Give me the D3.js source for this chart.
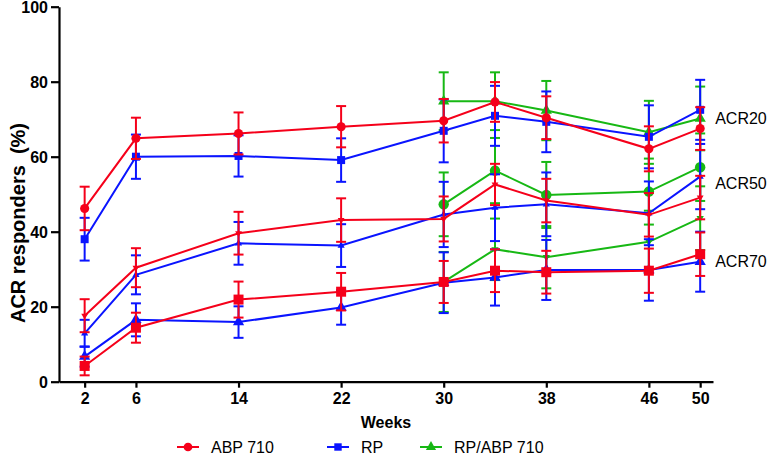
<!DOCTYPE html>
<html><head><meta charset="utf-8">
<script src="https://cdn.jsdelivr.net/npm/d3@7"></script>
<style>html,body{margin:0;padding:0;background:#fff;}svg{display:block;font-family:"Liberation Sans",Arial,sans-serif;}</style>
</head><body>
<svg id="c" width="767" height="457"></svg>
<script>
const weeks = [2, 6, 14, 22, 30, 34, 38, 46, 50];
const weeksCombo = [30, 34, 38, 46, 50];
const xTicks = [2, 6, 14, 22, 30, 38, 46, 50];
const yTicks = [0, 20, 40, 60, 80, 100];

const abp20 = [46.2, 64.9, 66.2, 68.0, 69.6, 74.6, 70.4, 62.1, 67.5];
const abp20Err = [5.8, 5.5, 5.6, 5.5, 5.8, 5.3, 5.7, 6.0, 5.7];
const abp50 = [17.6, 30.4, 39.6, 43.1, 43.4, 52.6, 48.3, 44.5, 49.1];
const abp50Err = [4.4, 5.2, 5.7, 5.8, 6.0, 5.5, 5.8, 5.8, 5.8];
const abp70 = [4.2, 14.4, 21.9, 24.0, 26.6, 29.6, 29.2, 29.6, 34.0];
const abp70Err = [2.5, 4.0, 4.8, 5.0, 5.6, 5.7, 5.7, 5.9, 5.8];

const rp20 = [38.0, 60.0, 60.2, 59.1, 66.9, 70.9, 69.3, 65.3, 72.5];
const rp20Err = [5.7, 5.9, 5.5, 5.8, 8.4, 8.0, 8.1, 8.4, 8.0];
const rp50 = [12.9, 28.5, 36.9, 36.3, 44.6, 46.4, 47.3, 44.9, 54.7];
const rp50Err = [3.6, 5.2, 5.7, 5.7, 8.7, 8.9, 8.5, 8.5, 8.7];
const rp70 = [6.7, 16.5, 15.9, 19.8, 26.4, 27.8, 29.8, 29.8, 32.0];
const rp70Err = [2.7, 4.4, 4.2, 4.6, 8.1, 7.5, 8.0, 8.2, 8.0];

const combo20 = [74.8, 74.8, 72.3, 66.5, 70.2];
const combo20Err = [7.7, 7.7, 7.9, 8.4, 8.5];
const combo50 = [47.3, 56.3, 49.8, 50.7, 57.2];
const combo50Err = [8.5, 8.7, 8.8, 8.8, 9.0];
const combo70 = [26.6, 35.3, 33.2, 37.3, 43.6];
const combo70Err = [8.0, 8.2, 8.3, 8.3, 8.5];

const groups = ["ABP 710", "RP", "RP/ABP 710"];
const colors = ["#f5001a", "#0a14ff", "#17b814"];
const levelLabels = ["ACR20", "ACR50", "ACR70"];
const levelLabelValues = [70.2, 52.9, 32.0];

const svg = d3.select("#c");
const x = d3.scaleLinear().domain([0, 51]).range([59, 713]);
const y = d3.scaleLinear().domain([0, 100]).range([381.7, 6.7]);

const triDown = { draw(ctx, size) { const s = Math.sqrt(size / (3 * Math.sqrt(3) / 4)); const h = s * Math.sqrt(3) / 2; ctx.moveTo(-s/2, -h/3); ctx.lineTo(s/2, -h/3); ctx.lineTo(0, 2*h/3); ctx.closePath(); } };

// series definitions: [weeks, means, errs, colorIdx, symbol, size]
const series = [
  [weeksCombo, combo70, combo70Err, 2, triDown, 70],
  [weeksCombo, combo50, combo50Err, 2, d3.symbolCircle, 85],
  [weeksCombo, combo20, combo20Err, 2, d3.symbolTriangle, 55],
  [weeks, rp70, rp70Err, 1, d3.symbolTriangle, 55],
  [weeks, rp50, rp50Err, 1, d3.symbolTriangle, 22],
  [weeks, rp20, rp20Err, 1, d3.symbolSquare, 64],
  [weeks, abp70, abp70Err, 0, d3.symbolSquare, 100],
  [weeks, abp50, abp50Err, 0, triDown, 60],
  [weeks, abp20, abp20Err, 0, d3.symbolCircle, 65]
];

const gData = svg.append("g");
series.forEach(([wk, m, e, ci, sym, sz]) => {
  const col = colors[ci];
  const pts = wk.map((w, i) => ({ w, v: m[i], e: e[i] }));
  const g = gData.append("g");
  pts.forEach(p => {
    g.append("line").attr("x1", x(p.w)).attr("x2", x(p.w)).attr("y1", y(p.v - p.e)).attr("y2", y(p.v + p.e))
      .attr("stroke", col).attr("stroke-width", 2);
    [p.v - p.e, p.v + p.e].forEach(v => {
      g.append("line").attr("x1", x(p.w) - 5).attr("x2", x(p.w) + 5).attr("y1", y(v)).attr("y2", y(v))
        .attr("stroke", col).attr("stroke-width", 2);
    });
  });
  g.append("path").datum(pts).attr("fill", "none").attr("stroke", col).attr("stroke-width", 2)
    .attr("d", d3.line().x(p => x(p.w)).y(p => y(p.v)));
  g.selectAll("path.m").data(pts).join("path").attr("class", "m")
    .attr("transform", p => `translate(${x(p.w)},${y(p.v)})`)
    .attr("d", d3.symbol().type(sym).size(sz)).attr("fill", col);
});

// axes
const xAxis = svg.append("g").attr("transform", `translate(0,${y(0)})`)
  .call(d3.axisBottom(x).tickValues(xTicks).tickSize(6).tickPadding(5).tickSizeOuter(0));
const yAxis = svg.append("g").attr("transform", `translate(${x(0)},0)`)
  .call(d3.axisLeft(y).tickValues(yTicks).tickSize(8).tickPadding(3).tickSizeOuter(0));
[xAxis, yAxis].forEach(a => {
  a.select(".domain").attr("stroke", "#000").attr("stroke-width", 2.2);
  a.selectAll(".tick line").attr("stroke", "#000").attr("stroke-width", 2.2);
  a.selectAll(".tick text").attr("fill", "#000").style("font-size", "16px").style("font-weight", "bold")
    .style("font-family", "'Liberation Sans',Arial,sans-serif");
});
yAxis.selectAll(".tick text").attr("dy", "0.36em");

svg.append("text").attr("x", (x(0) + x(51)) / 2).attr("y", 428).attr("text-anchor", "middle")
  .style("font-size", "16px").style("font-weight", "bold").text("Weeks");
svg.append("text").attr("transform", `translate(25,223) rotate(-90)`).attr("text-anchor", "middle")
  .style("font-size", "20px").style("font-weight", "bold").attr("xml:space", "preserve").text("ACR responders  (%)");

// ACR labels
levelLabels.forEach((lab, i) => {
  svg.append("text").attr("x", x(50) + 15).attr("y", y(levelLabelValues[i])).attr("dy", "0.36em")
    .style("font-size", "16px").text(lab);
});

// legend
const legX = [177, 327, 420];
const legSyms = [d3.symbolCircle, d3.symbolSquare, d3.symbolTriangle];
const legSizes = [60, 55, 45];
groups.forEach((gname, i) => {
  const g = svg.append("g").attr("transform", `translate(${legX[i]},447)`);
  g.append("line").attr("x1", 0).attr("x2", 22).attr("stroke", colors[i]).attr("stroke-width", 2);
  g.append("path").attr("transform", "translate(11,0)").attr("d", d3.symbol().type(legSyms[i]).size(legSizes[i])).attr("fill", colors[i]);
  g.append("text").attr("x", 34).attr("dy", "0.36em").style("font-size", "16px").text(gname);
});
</script>
</body></html>
